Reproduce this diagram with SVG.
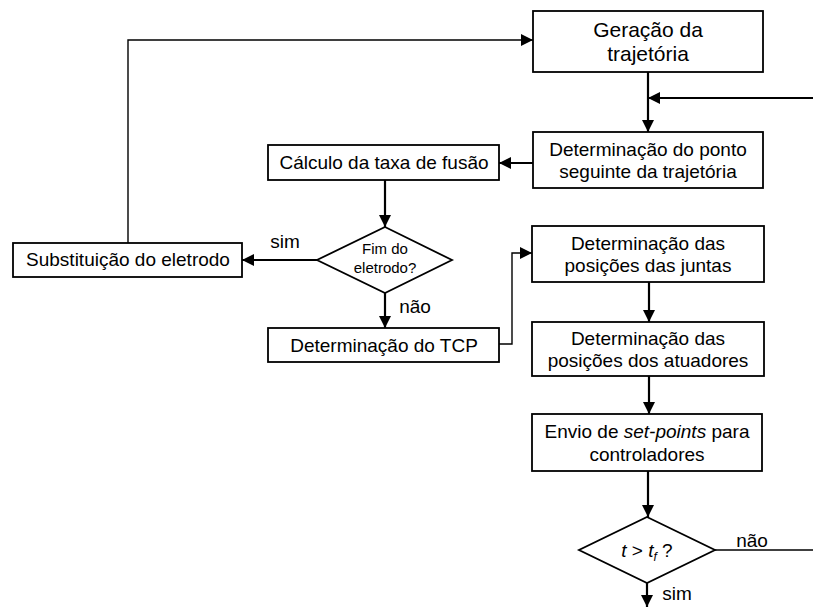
<svg xmlns="http://www.w3.org/2000/svg" width="813" height="607" viewBox="0 0 813 607">
<style>
.box{fill:#fff;stroke:#000;stroke-width:1.8}
.t{font-family:"Liberation Sans",Arial,sans-serif;font-size:19px;fill:#000;text-anchor:middle}
.s{font-family:"Liberation Sans",Arial,sans-serif;font-size:15px;fill:#000;text-anchor:middle}
.w{fill:none;stroke:#000;stroke-width:2.2}
.n{fill:none;stroke:#000;stroke-width:1.4}
</style>
<defs>
<marker id="ah" markerWidth="12" markerHeight="12" viewBox="0 0 12 12" refX="12" refY="6" orient="auto" markerUnits="userSpaceOnUse">
<path d="M0,0 L12,6 L0,12 Z" fill="#000"/>
</marker>
</defs>
<rect width="813" height="607" fill="#fff"/>
<g id="connectors">
<path class="w" d="M648,72 V132" marker-end="url(#ah)"/>
<path class="w" d="M813,98 H648" marker-end="url(#ah)"/>
<path class="w" d="M533,163 H499" marker-end="url(#ah)"/>
<path class="w" d="M385,180 V227" marker-end="url(#ah)"/>
<path class="w" d="M317,260 H242" marker-end="url(#ah)"/>
<path class="n" d="M128,243 V40 H533" marker-end="url(#ah)"/>
<path class="w" d="M385,293 V328" marker-end="url(#ah)"/>
<path class="n" d="M499,344 H512 V253 H532" marker-end="url(#ah)"/>
<path class="w" d="M649,282 V322" marker-end="url(#ah)"/>
<path class="w" d="M649,376 V414" marker-end="url(#ah)"/>
<path class="w" d="M648,471 V517" marker-end="url(#ah)"/>
<path class="n" d="M715,550 H813"/>
<path class="w" d="M647,583 V607" marker-end="url(#ah)"/>
<text class="t" x="285" y="248">sim</text>
<text class="t" x="415" y="313">não</text>
<text class="t" x="752" y="547">não</text>
<text class="t" x="677" y="600">sim</text>
</g>
<g id="geracao">
<rect class="box" x="533" y="11" width="230" height="61"/>
<text class="t" x="648" y="37" style="font-size:21px">Geração da</text>
<text class="t" x="648" y="61" style="font-size:21px">trajetória</text>
</g>
<g id="ponto">
<rect class="box" x="533" y="132" width="230" height="56"/>
<text class="t" x="648" y="156">Determinação do ponto</text>
<text class="t" x="648" y="178">seguinte da trajetória</text>
</g>
<g id="calculo">
<rect class="box" x="268" y="145" width="231" height="35"/>
<text class="t" x="384" y="169">Cálculo da taxa de fusão</text>
</g>
<g id="fim">
<path class="box" d="M385,227 L452,260 L385,293 L317,260 Z"/>
<text class="s" x="385" y="254">Fim do</text>
<text class="s" x="385" y="273">eletrodo?</text>
</g>
<g id="substituicao">
<rect class="box" x="13" y="243" width="229" height="34"/>
<text class="t" x="128" y="266">Substituição do eletrodo</text>
</g>
<g id="tcp">
<rect class="box" x="268" y="328" width="231" height="34"/>
<text class="t" x="384" y="352">Determinação do TCP</text>
</g>
<g id="juntas">
<rect class="box" x="532" y="226" width="232" height="56"/>
<text class="t" x="648" y="250">Determinação das</text>
<text class="t" x="648" y="272">posições das juntas</text>
</g>
<g id="atuadores">
<rect class="box" x="532" y="322" width="232" height="54"/>
<text class="t" x="648" y="345">Determinação das</text>
<text class="t" x="648" y="367">posições dos atuadores</text>
</g>
<g id="envio">
<rect class="box" x="532" y="414" width="230" height="57"/>
<text class="t" x="647" y="438">Envio de <tspan font-style="italic">set-points</tspan> para</text>
<text class="t" x="647" y="461">controladores</text>
</g>
<g id="tempo">
<path class="box" d="M647,517 L715,550 L647,583 L579,550 Z"/>
<text class="t" x="647" y="557"><tspan font-style="italic">t</tspan> &gt; <tspan font-style="italic">t</tspan><tspan font-style="italic" font-size="12px" dy="4">f</tspan><tspan dy="-4"> ?</tspan></text>
</g>
</svg>
